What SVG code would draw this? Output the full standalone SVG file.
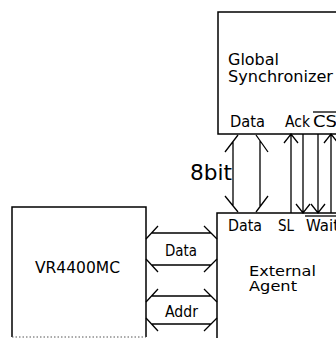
<svg xmlns="http://www.w3.org/2000/svg" width="336" height="338" viewBox="0 0 336 338">
<style>
.box{fill:#fff;stroke:#000;stroke-width:1.5}
.ln{fill:none;stroke:#000;stroke-width:1.3}
.dot{fill:none;stroke:#555;stroke-width:1;stroke-dasharray:1.5 2}
text{font-family:"DejaVu Sans","Liberation Sans",sans-serif;font-size:15px;fill:#000}
.big{font-size:22px}
.sm{font-size:14.5px}
</style>
<rect width="336" height="338" fill="#fff"/>
<g id="global-synchronizer">
<rect class="box" x="218" y="12" width="130" height="122"/>
<text x="228" y="65" textLength="51" lengthAdjust="spacingAndGlyphs">Global</text>
<text x="228" y="82" textLength="105" lengthAdjust="spacingAndGlyphs">Synchronizer</text>
<text x="230" y="127" textLength="35" lengthAdjust="spacingAndGlyphs">Data</text>
<text x="285" y="127" textLength="25" lengthAdjust="spacingAndGlyphs">Ack</text>
<text x="313" y="127" textLength="24" lengthAdjust="spacingAndGlyphs">CS</text>
<line class="ln" x1="313" y1="112" x2="336" y2="112"/>
</g>
<g id="external-agent">
<rect class="box" x="217" y="213" width="130" height="140"/>
<text x="228" y="231" textLength="34" lengthAdjust="spacingAndGlyphs">Data</text>
<text x="278" y="231" textLength="16" lengthAdjust="spacingAndGlyphs">SL</text>
<text x="306" y="231" textLength="33" lengthAdjust="spacingAndGlyphs">Wait</text>
<line class="ln" x1="305" y1="216" x2="336" y2="216"/>
<text class="sm" x="249" y="276" textLength="67" lengthAdjust="spacingAndGlyphs">External</text>
<text class="sm" x="249" y="291" textLength="48" lengthAdjust="spacingAndGlyphs">Agent</text>
</g>
<g id="vr4400mc">
<path class="box" d="M12,337V207H146V337"/>
<line class="dot" x1="12" y1="337" x2="146" y2="337"/>
<text x="35" y="273" style="font-size:16px" textLength="85" lengthAdjust="spacingAndGlyphs">VR4400MC</text>
</g>
<g id="connectors">
<path class="ln" d="M233,141V206M225,152L238,135M225,196L238,212M260,141V206M268,152L256,135M268,196L256,212"/>
<text class="big" x="190" y="180" textLength="42" lengthAdjust="spacingAndGlyphs">8bit</text>
<path class="ln" d="M291,134V213M284,143L291,134L298,143"/>
<path class="ln" d="M303,134V213M296,204L303,213L310,204"/>
<path class="ln" d="M318,134V213M311,204L318,213L325,204"/>
<path class="ln" d="M331,134V213M324,143L331,134L338,143"/>
<path class="ln" d="M152,233H211M158,226L146,239M204,226L217,239M152,265H211M146,259L158,272M217,259L204,272"/>
<text x="165" y="256" textLength="32" lengthAdjust="spacingAndGlyphs">Data</text>
<path class="ln" d="M152,296H211M158,289L146,302M204,289L217,302M152,324H211M146,318L158,331M217,318L204,331"/>
<text x="165" y="317" textLength="33" lengthAdjust="spacingAndGlyphs">Addr</text>
</g>
</svg>
